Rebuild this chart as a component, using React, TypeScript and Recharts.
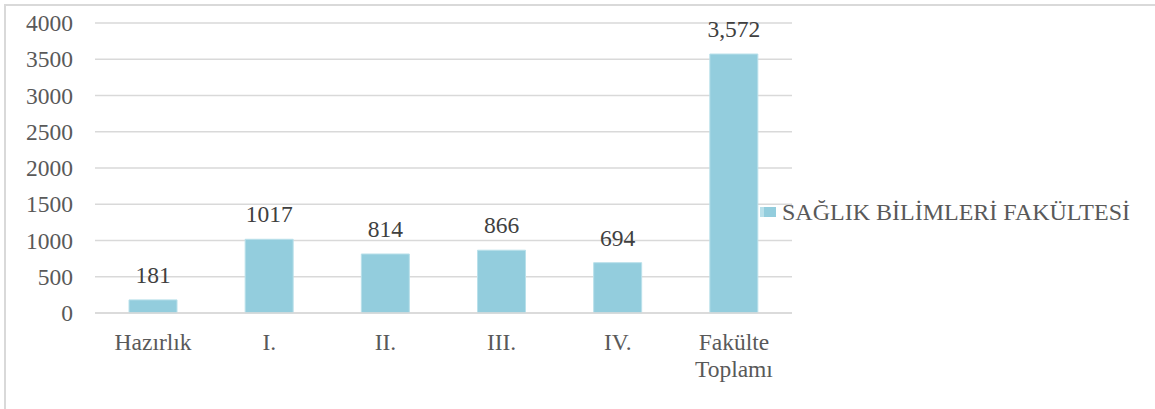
import React from 'react';
import { BarChart, Bar, XAxis, YAxis, CartesianGrid, Legend, LabelList } from 'recharts';

const categories = ['Hazırlık', 'I.', 'II.', 'III.', 'IV.', 'Fakülte Toplamı'];
const values = [181, 1017, 814, 866, 694, 3572];
const valueLabels = ['181', '1017', '814', '866', '694', '3,572'];
const yTicks = [0, 500, 1000, 1500, 2000, 2500, 3000, 3500, 4000];
const seriesName = 'SAĞLIK BİLİMLERİ FAKÜLTESİ';

const data = categories.map((c, i) => ({ name: c, value: values[i], label: valueLabels[i] }));

const FONT = '"Liberation Serif", "Times New Roman", serif';
const FS = 23.5;
const BAR_FILL = '#93CDDD';
const BAR_STROKE = '#B9E0EA';

const CategoryTick = (props: any) => {
  const { x, y, payload } = props;
  const lines = String(payload.value).split(' ');
  return (
    <text x={x} y={y} textAnchor="middle" fill="#595959" fontSize={FS} fontFamily={FONT}>
      {lines.map((l, i) => (
        <tspan key={i} x={x} dy={i === 0 ? 16 : 27}>{l}</tspan>
      ))}
    </text>
  );
};

const YTick = (props: any) => {
  const { x, y, payload } = props;
  return (
    <text x={x} y={y} dy={8} textAnchor="end" fill="#595959" fontSize={FS} fontFamily={FONT}>
      {payload.value}
    </text>
  );
};

const BarValue = (props: any) => {
  const { x, y, width, value } = props;
  return (
    <text x={x + width / 2} y={y - 17} textAnchor="middle" fill="#404040" fontSize={FS} fontFamily={FONT}>
      {value}
    </text>
  );
};

const LegendBox = () => (
  <div style={{ display: 'flex', alignItems: 'center', fontFamily: FONT, fontSize: 24, color: '#595959', whiteSpace: 'nowrap', lineHeight: '26px' }}>
    <span style={{ display: 'inline-block', width: 12, height: 10, background: BAR_FILL, borderLeft: `4px solid ${BAR_STROKE}`, marginRight: 6 }} />
    <span>{seriesName}</span>
  </div>
);

export default function App() {
  return (
    <div style={{ position: 'absolute', left: 0, top: 0, width: 1155, height: 409, background: '#fff', overflow: 'hidden', fontFamily: FONT }}>
      <div style={{ position: 'absolute', left: 4, top: 4, width: 1160, height: 420, borderTop: '2px solid #d9d9d9', borderLeft: '2px solid #d9d9d9' }} />
      <div style={{ position: 'absolute', left: 0, top: 0 }}>
        <BarChart width={1155} height={409} data={data} margin={{ top: 23, right: 363, bottom: 36, left: 0 }}>
          <CartesianGrid vertical={false} stroke="#d9d9d9" strokeWidth={1.5} />
          <XAxis
            dataKey="name"
            tick={<CategoryTick />}
            tickLine={false}
            axisLine={{ stroke: '#d9d9d9', strokeWidth: 1.5 }}
            tickSize={0}
            tickMargin={21}
            height={60}
            interval={0}
          />
          <YAxis
            domain={[0, 4000]}
            ticks={yTicks}
            width={95}
            tickLine={false}
            axisLine={false}
            tickSize={0}
            tickMargin={22}
            tick={<YTick />}
          />
          <Legend
            layout="horizontal"
            verticalAlign="middle"
            align="center"
            content={<LegendBox />}
            wrapperStyle={{ position: 'absolute', left: 760, top: 199, width: 400 }}
          />
          <Bar dataKey="value" name={seriesName} fill={BAR_FILL} stroke={BAR_STROKE} strokeWidth={1} barSize={48} isAnimationActive={false}>
            <LabelList dataKey="label" content={<BarValue />} />
          </Bar>
        </BarChart>
      </div>
    </div>
  );
}
